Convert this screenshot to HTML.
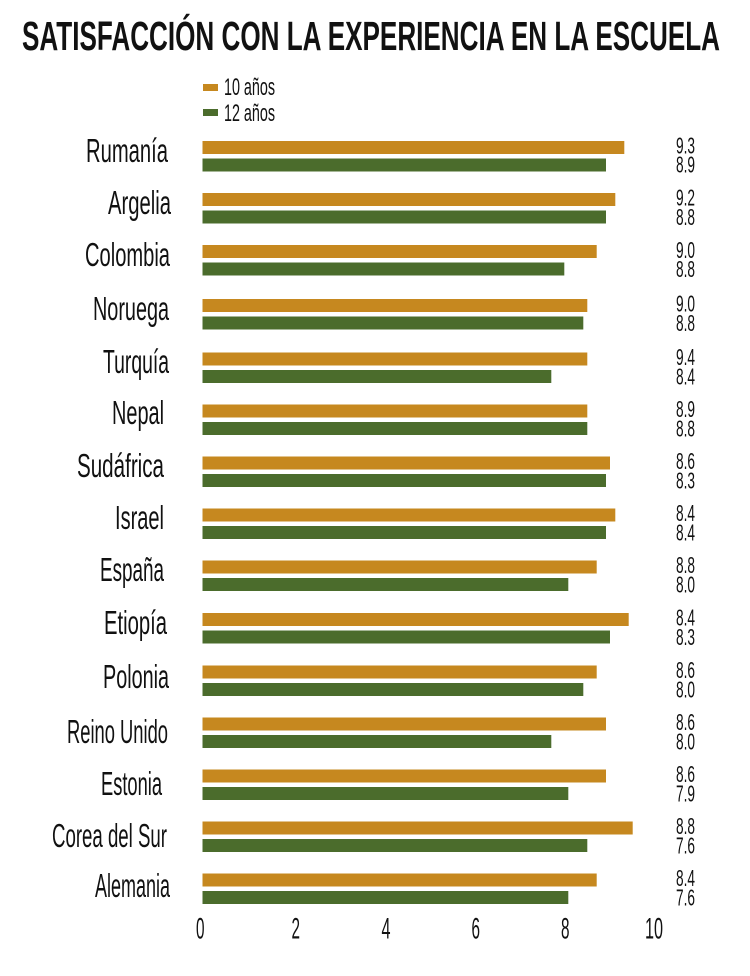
<!DOCTYPE html>
<html>
<head>
<meta charset="utf-8">
<style>
  html, body { margin: 0; padding: 0; background: #ffffff; }
  body { width: 750px; height: 976px; overflow: hidden; }
  svg { display: block; }
  .t { font-family: "Liberation Sans", "DejaVu Sans", sans-serif; fill: #111; }
</style>
</head>
<body>
<svg width="750" height="976" viewBox="0 0 750 976" xmlns="http://www.w3.org/2000/svg">
  <rect width="750" height="976" fill="#ffffff"/>

  <!-- Title -->
  <text class="t" x="22" y="50" font-size="41" font-weight="bold" textLength="698" lengthAdjust="spacingAndGlyphs" fill="#000">SATISFACCIÓN CON LA EXPERIENCIA EN LA ESCUELA</text>

  <!-- Legend -->
  <rect x="203" y="84" width="15" height="7" fill="#C6881F"/>
  <text class="t" x="224" y="95" font-size="24" textLength="51" lengthAdjust="spacingAndGlyphs">10 años</text>
  <rect x="203" y="109" width="15" height="7" fill="#4B6C2C"/>
  <text class="t" x="224" y="121" font-size="24" textLength="51" lengthAdjust="spacingAndGlyphs">12 años</text>

  <!-- Bars -->
  <g>
    <!-- Rumanía -->
    <rect x="202.5" y="141" width="421.8" height="13" fill="#C6881F"/>
    <rect x="202.5" y="158.5" width="403.5" height="13" fill="#4B6C2C"/>
    <!-- Argelia -->
    <rect x="202.5" y="193" width="412.8" height="13" fill="#C6881F"/>
    <rect x="202.5" y="210.5" width="403.5" height="13" fill="#4B6C2C"/>
    <!-- Colombia -->
    <rect x="202.5" y="245" width="394.2" height="13" fill="#C6881F"/>
    <rect x="202.5" y="262.5" width="361.8" height="13" fill="#4B6C2C"/>
    <!-- Noruega -->
    <rect x="202.5" y="299" width="384.8" height="13" fill="#C6881F"/>
    <rect x="202.5" y="316.5" width="380.8" height="13" fill="#4B6C2C"/>
    <!-- Turquía -->
    <rect x="202.5" y="352.5" width="384.8" height="13" fill="#C6881F"/>
    <rect x="202.5" y="370" width="348.8" height="13" fill="#4B6C2C"/>
    <!-- Nepal -->
    <rect x="202.5" y="404.5" width="384.8" height="13" fill="#C6881F"/>
    <rect x="202.5" y="422" width="384.8" height="13" fill="#4B6C2C"/>
    <!-- Sudáfrica -->
    <rect x="202.5" y="456.5" width="407.5" height="13" fill="#C6881F"/>
    <rect x="202.5" y="474" width="403.5" height="13" fill="#4B6C2C"/>
    <!-- Israel -->
    <rect x="202.5" y="508.5" width="412.8" height="13" fill="#C6881F"/>
    <rect x="202.5" y="526" width="403.5" height="13" fill="#4B6C2C"/>
    <!-- España -->
    <rect x="202.5" y="560.5" width="394.2" height="13" fill="#C6881F"/>
    <rect x="202.5" y="578" width="365.8" height="13" fill="#4B6C2C"/>
    <!-- Etiopía -->
    <rect x="202.5" y="613" width="426.2" height="13" fill="#C6881F"/>
    <rect x="202.5" y="630.5" width="407.5" height="13" fill="#4B6C2C"/>
    <!-- Polonia -->
    <rect x="202.5" y="665.5" width="394.2" height="13" fill="#C6881F"/>
    <rect x="202.5" y="683" width="380.8" height="13" fill="#4B6C2C"/>
    <!-- Reino Unido -->
    <rect x="202.5" y="717.5" width="403.5" height="13" fill="#C6881F"/>
    <rect x="202.5" y="735" width="348.8" height="13" fill="#4B6C2C"/>
    <!-- Estonia -->
    <rect x="202.5" y="769.5" width="403.5" height="13" fill="#C6881F"/>
    <rect x="202.5" y="787" width="365.8" height="13" fill="#4B6C2C"/>
    <!-- Corea del Sur -->
    <rect x="202.5" y="821.5" width="430.2" height="13" fill="#C6881F"/>
    <rect x="202.5" y="839" width="384.8" height="13" fill="#4B6C2C"/>
    <!-- Alemania -->
    <rect x="202.5" y="873.5" width="394.2" height="13" fill="#C6881F"/>
    <rect x="202.5" y="891" width="365.8" height="13" fill="#4B6C2C"/>
  </g>

  <!-- Country labels -->
  <g font-size="33">
    <text class="t" x="86" y="162" textLength="82" lengthAdjust="spacingAndGlyphs">Rumanía</text>
    <text class="t" x="108" y="214" textLength="63" lengthAdjust="spacingAndGlyphs">Argelia</text>
    <text class="t" x="85" y="266" textLength="85" lengthAdjust="spacingAndGlyphs">Colombia</text>
    <text class="t" x="93" y="320" textLength="76" lengthAdjust="spacingAndGlyphs">Noruega</text>
    <text class="t" x="103" y="373" textLength="66" lengthAdjust="spacingAndGlyphs">Turquía</text>
    <text class="t" x="112" y="424" textLength="52" lengthAdjust="spacingAndGlyphs">Nepal</text>
    <text class="t" x="77" y="477" textLength="87" lengthAdjust="spacingAndGlyphs">Sudáfrica</text>
    <text class="t" x="115" y="529" textLength="49" lengthAdjust="spacingAndGlyphs">Israel</text>
    <text class="t" x="100" y="581" textLength="64" lengthAdjust="spacingAndGlyphs">España</text>
    <text class="t" x="104" y="634" textLength="63" lengthAdjust="spacingAndGlyphs">Etiopía</text>
    <text class="t" x="103" y="688" textLength="66" lengthAdjust="spacingAndGlyphs">Polonia</text>
    <text class="t" x="67" y="743" textLength="101" lengthAdjust="spacingAndGlyphs">Reino Unido</text>
    <text class="t" x="101" y="795" textLength="61" lengthAdjust="spacingAndGlyphs">Estonia</text>
    <text class="t" x="52" y="847" textLength="115" lengthAdjust="spacingAndGlyphs">Corea del Sur</text>
    <text class="t" x="95" y="897" textLength="75" lengthAdjust="spacingAndGlyphs">Alemania</text>
  </g>

  <!-- Value labels -->
  <g font-size="23">
    <text class="t" x="676" y="153.5" textLength="19" lengthAdjust="spacingAndGlyphs">9.3</text>
    <text class="t" x="676" y="172.5" textLength="19" lengthAdjust="spacingAndGlyphs">8.9</text>
    <text class="t" x="676" y="205.5" textLength="19" lengthAdjust="spacingAndGlyphs">9.2</text>
    <text class="t" x="676" y="225" textLength="19" lengthAdjust="spacingAndGlyphs">8.8</text>
    <text class="t" x="676" y="258" textLength="19" lengthAdjust="spacingAndGlyphs">9.0</text>
    <text class="t" x="676" y="277" textLength="19" lengthAdjust="spacingAndGlyphs">8.8</text>
    <text class="t" x="676" y="311.5" textLength="19" lengthAdjust="spacingAndGlyphs">9.0</text>
    <text class="t" x="676" y="331" textLength="19" lengthAdjust="spacingAndGlyphs">8.8</text>
    <text class="t" x="676" y="365" textLength="19" lengthAdjust="spacingAndGlyphs">9.4</text>
    <text class="t" x="676" y="384.5" textLength="19" lengthAdjust="spacingAndGlyphs">8.4</text>
    <text class="t" x="676" y="417" textLength="19" lengthAdjust="spacingAndGlyphs">8.9</text>
    <text class="t" x="676" y="436.5" textLength="19" lengthAdjust="spacingAndGlyphs">8.8</text>
    <text class="t" x="676" y="469" textLength="19" lengthAdjust="spacingAndGlyphs">8.6</text>
    <text class="t" x="676" y="488.5" textLength="19" lengthAdjust="spacingAndGlyphs">8.3</text>
    <text class="t" x="676" y="521" textLength="19" lengthAdjust="spacingAndGlyphs">8.4</text>
    <text class="t" x="676" y="540.5" textLength="19" lengthAdjust="spacingAndGlyphs">8.4</text>
    <text class="t" x="676" y="573" textLength="19" lengthAdjust="spacingAndGlyphs">8.8</text>
    <text class="t" x="676" y="592.5" textLength="19" lengthAdjust="spacingAndGlyphs">8.0</text>
    <text class="t" x="676" y="625.5" textLength="19" lengthAdjust="spacingAndGlyphs">8.4</text>
    <text class="t" x="676" y="645" textLength="19" lengthAdjust="spacingAndGlyphs">8.3</text>
    <text class="t" x="676" y="678" textLength="19" lengthAdjust="spacingAndGlyphs">8.6</text>
    <text class="t" x="676" y="697.5" textLength="19" lengthAdjust="spacingAndGlyphs">8.0</text>
    <text class="t" x="676" y="730" textLength="19" lengthAdjust="spacingAndGlyphs">8.6</text>
    <text class="t" x="676" y="749.5" textLength="19" lengthAdjust="spacingAndGlyphs">8.0</text>
    <text class="t" x="676" y="782" textLength="19" lengthAdjust="spacingAndGlyphs">8.6</text>
    <text class="t" x="676" y="801.5" textLength="19" lengthAdjust="spacingAndGlyphs">7.9</text>
    <text class="t" x="676" y="834" textLength="19" lengthAdjust="spacingAndGlyphs">8.8</text>
    <text class="t" x="676" y="853.5" textLength="19" lengthAdjust="spacingAndGlyphs">7.6</text>
    <text class="t" x="676" y="886" textLength="19" lengthAdjust="spacingAndGlyphs">8.4</text>
    <text class="t" x="676" y="905.5" textLength="19" lengthAdjust="spacingAndGlyphs">7.6</text>
  </g>

  <!-- X axis tick labels -->
  <g font-size="30">
    <text class="t" x="196" y="938.5" textLength="8.5" lengthAdjust="spacingAndGlyphs">0</text>
    <text class="t" x="291.5" y="938.5" textLength="8.5" lengthAdjust="spacingAndGlyphs">2</text>
    <text class="t" x="381.5" y="938.5" textLength="9" lengthAdjust="spacingAndGlyphs">4</text>
    <text class="t" x="471.5" y="938.5" textLength="8.5" lengthAdjust="spacingAndGlyphs">6</text>
    <text class="t" x="561" y="938.5" textLength="8.5" lengthAdjust="spacingAndGlyphs">8</text>
    <text class="t" x="645" y="938.5" textLength="18" lengthAdjust="spacingAndGlyphs">10</text>
  </g>
</svg>
</body>
</html>
